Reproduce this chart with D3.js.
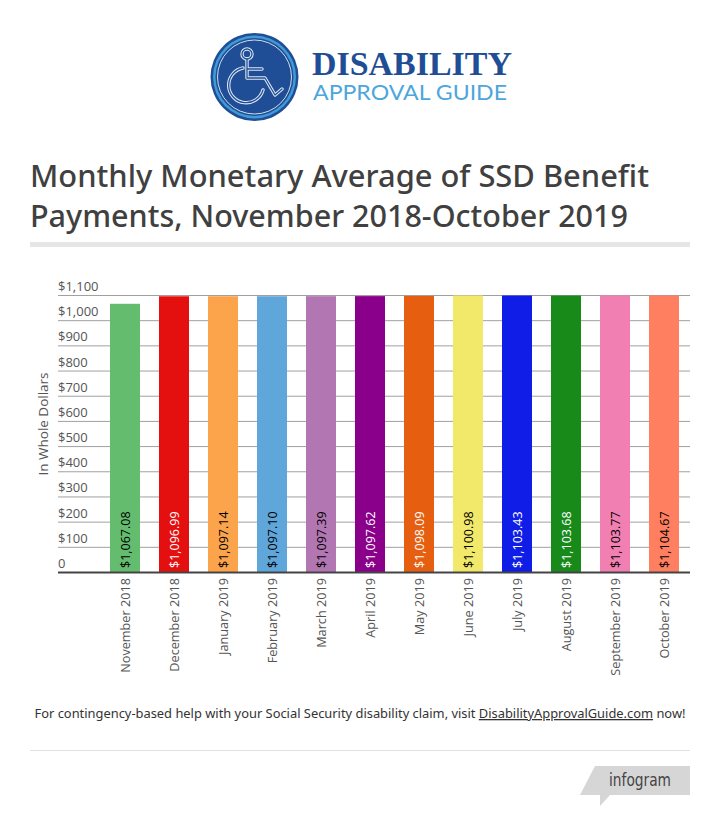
<!DOCTYPE html>
<html>
<head>
<meta charset="utf-8">
<script src="https://cdn.jsdelivr.net/npm/d3@7"></script>
<style>
html, body { margin: 0; padding: 0; background: #fff; }
svg { display: block; }
text { font-family: "Open Sans", "Noto Sans", sans-serif; }
</style>
</head>
<body>
<div id="chart"></div>
<script>
const months = ["November 2018","December 2018","January 2019","February 2019","March 2019","April 2019","May 2019","June 2019","July 2019","August 2019","September 2019","October 2019"];
const payments = [1067.08,1096.99,1097.14,1097.10,1097.39,1097.62,1098.09,1100.98,1103.43,1103.68,1103.77,1104.67];
const barColors = ["#64bd6e","#e40f0f","#fba44c","#5fa6da","#b277b2","#8b008b","#e65e10","#f2e96b","#0f1de6","#178a1a","#f27fb2","#ff7f60"];
const labelColors = ["#000","#fff","#000","#000","#000","#fff","#fff","#000","#fff","#fff","#000","#000"];
const yTicks = [0,100,200,300,400,500,600,700,800,900,1000,1100];

const width = 720, height = 822;
const svg = d3.select("#chart").append("svg").attr("width", width).attr("height", height);

// logo
const logo = svg.append("g");
logo.append("circle").attr("cx", 254.5).attr("cy", 77).attr("r", 44).attr("fill", "#1f4e96");
logo.append("circle").attr("cx", 254.5).attr("cy", 77).attr("r", 41.5).attr("fill", "#3f9ad6");
logo.append("circle").attr("cx", 254.5).attr("cy", 77).attr("r", 39).attr("fill", "#1f4e96");
logo.append("circle").attr("cx", 254.5).attr("cy", 77).attr("r", 37).attr("fill", "none").attr("stroke", "#e4ecf6").attr("stroke-width", 0.9);

const headAndBody = "M247 59V78H265L275 95L282 89M247 69H262";
const wheelArc = "M243 68A17.5 17.5 0 1 0 263 90";
// icon is a light outline with the blue showing through, so stroke twice
[["#dfe8f4", 3.4], ["#1f4e96", 1.3]].forEach(([color, w]) => {
    const icon = logo.append("g").attr("fill", "none").attr("stroke", color).attr("stroke-width", w)
        .attr("stroke-linejoin", "round").attr("stroke-linecap", "round");
    icon.append("circle").attr("cx", 247).attr("cy", 54).attr("r", 5);
    icon.append("path").attr("d", headAndBody);
    icon.append("path").attr("d", wheelArc);
});

logo.append("text").attr("x", 312).attr("y", 75).attr("fill", "#1f4e96")
    .style("font-family", "'Liberation Serif', serif").attr("font-weight", "bold").attr("font-size", 33)
    .attr("textLength", 200).attr("lengthAdjust", "spacingAndGlyphs")
    .text("DISABILITY");
logo.append("text").attr("x", 313).attr("y", 100).attr("fill", "#4da6dc")
    .style("font-family", "Lato, sans-serif").attr("font-size", 20.5).attr("font-weight", 400)
    .attr("textLength", 194).attr("lengthAdjust", "spacingAndGlyphs")
    .text("APPROVAL GUIDE");

// title
svg.append("text").attr("x", 30).attr("y", 187).attr("fill", "#404040").attr("font-size", 31)
    .style("font-family", "'Noto Sans', sans-serif").attr("font-weight", 500)
    .attr("textLength", 619).attr("lengthAdjust", "spacingAndGlyphs")
    .text("Monthly Monetary Average of SSD Benefit");
svg.append("text").attr("x", 30).attr("y", 227).attr("fill", "#404040").attr("font-size", 31)
    .style("font-family", "'Noto Sans', sans-serif").attr("font-weight", 500)
    .attr("textLength", 598).attr("lengthAdjust", "spacingAndGlyphs")
    .text("Payments, November 2018-October 2019");
svg.append("rect").attr("x", 30).attr("y", 242).attr("width", 660).attr("height", 5).attr("fill", "#e6e6e6");

// scales
const x = d3.scaleBand().domain(months).range([100.5, 688.5]).paddingInner(0.388).paddingOuter(0.194);
// the chart cuts bars off at the top tick
const y = d3.scaleLinear().domain([0, 1100]).range([572, 295]).clamp(true);

// grid
const grid = svg.append("g").attr("transform", "translate(58,0)")
    .call(d3.axisLeft(y).tickValues(yTicks).tickSize(-632).tickFormat(""));
grid.select(".domain").remove();
grid.selectAll("line").attr("stroke", "#a0a0a0");

// y labels sit above their gridline
svg.append("g").selectAll("text").data(yTicks).enter().append("text")
    .attr("x", 58).attr("y", d => y(d) - 4)
    .attr("fill", "#555").attr("font-size", 13)
    .text(d => d === 0 ? "0" : d3.format("$,")(d));

svg.append("text").attr("transform", "translate(48,424) rotate(-90)")
    .attr("text-anchor", "middle").attr("fill", "#555").attr("font-size", 13.5)
    .text("In Whole Dollars");

// bars
svg.append("g").selectAll("rect").data(payments).enter().append("rect")
    .attr("x", (d, i) => x(months[i]))
    .attr("y", d => y(d) + 0.5)
    .attr("width", x.bandwidth())
    .attr("height", d => y(0) - y(d) - 0.5)
    .attr("fill", (d, i) => barColors[i]);

// value labels
svg.append("g").selectAll("text").data(payments).enter().append("text")
    .attr("transform", (d, i) => "translate(" + (x(months[i]) + x.bandwidth() / 2 + 4.5) + ",568) rotate(-90)")
    .attr("fill", (d, i) => labelColors[i]).attr("font-size", 12.5)
    .text(d => d3.format("$,.2f")(d));

// baseline
svg.append("line").attr("x1", 58).attr("x2", 690).attr("y1", 572.5).attr("y2", 572.5).attr("stroke", "#444").attr("stroke-width", 2);

// month labels
svg.append("g").selectAll("text").data(months).enter().append("text")
    .attr("transform", d => "translate(" + (x(d) + x.bandwidth() / 2 + 4.5) + ",578) rotate(-90)")
    .attr("text-anchor", "end").attr("fill", "#555").attr("font-size", 12.7)
    .text(d => d);

// footer
const foot = svg.append("text").attr("x", 360).attr("y", 718).attr("text-anchor", "middle")
    .attr("fill", "#333").attr("font-size", 12.88)
    .style("font-family", "'Noto Sans', sans-serif");
foot.append("tspan").text("For contingency-based help with your Social Security disability claim, visit ");
foot.append("tspan").attr("text-decoration", "underline").text("DisabilityApprovalGuide.com");
foot.append("tspan").text(" now!");

svg.append("line").attr("x1", 30).attr("x2", 690).attr("y1", 750.5).attr("y2", 750.5).attr("stroke", "#e2e2e2");

// infogram badge
svg.append("path").attr("d", d3.line()([[595,766],[690,766],[690,795],[610,795],[600,806],[600,795],[580,795]])).attr("fill", "#d6d6d6");
svg.append("text").attr("x", 609).attr("y", 786).attr("fill", "#444").attr("font-size", 17)
    .style("font-family", "'DejaVu Sans', sans-serif").attr("textLength", 62).attr("lengthAdjust", "spacingAndGlyphs")
    .text("infogram");
</script>
</body>
</html>
